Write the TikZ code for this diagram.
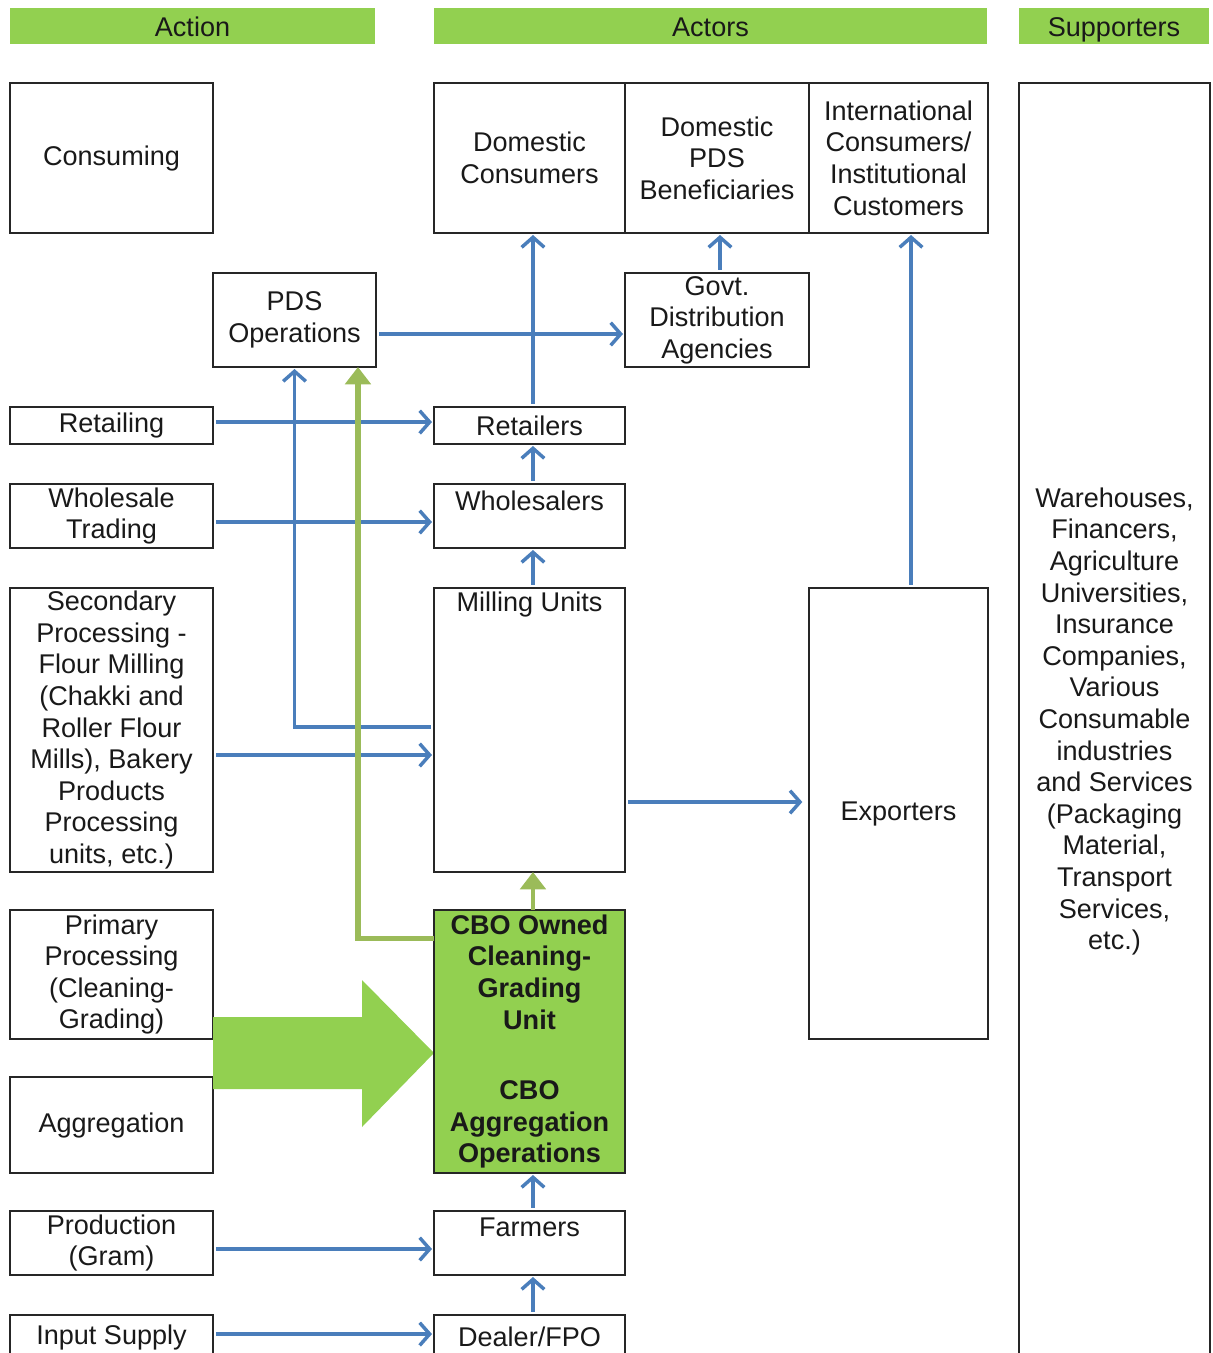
\documentclass[tikz,border=0pt]{standalone}
\usepackage{fontspec}
\setmainfont{Liberation Sans}
\usetikzlibrary{arrows.meta}
\definecolor{hdr}{HTML}{92D050}
\definecolor{blu}{HTML}{4A7EBB}
\definecolor{olv}{HTML}{9BBB59}
\definecolor{edgec}{HTML}{262626}
% [options]{name}{x1}{y1}{x2}{y2}{text}
\newcommand\mybox[7][]{\node[rectnode,#1,minimum width={(#5-#3)*0.75pt},minimum height={(#6-#4)*0.75pt}] (#2) at ({(#3+#5)/2},{(#4+#6)/2}) {#7};}
\begin{document}
\begin{tikzpicture}[x=0.75pt,y=-0.75pt,
 every node/.style={font=\fontsize{20.3}{23.7}\selectfont, text=black!90, align=center},
 rectnode/.style={inner sep=0pt, outer sep=0pt, anchor=center},
 box/.style={draw=edgec, line width=1pt},
 hdrbar/.style={fill=hdr, text height=18pt, text depth=2.8pt},
 cbobox/.style={box, fill=hdr, font=\fontsize{20.3}{23.7}\selectfont\bfseries},
 toptext/.style={label={[anchor=center,yshift=-12.5pt]north:#1}},
 flow/.style={draw=blu, line width=2.6pt, shorten <=2.5pt, shorten >=1.5pt,
   -{Straight Barb[length=7.5pt,width=17pt]}},
 gflow/.style={draw=olv, line width=3.8pt, -{Triangle[length=13pt,width=19pt]}},
 bigarrow/.style={fill=hdr}]
\useasboundingbox (0,0) rectangle (1213,1353);
\clip (0,0) rectangle (1213,1353);

% headers
\mybox[hdrbar]{hA}{10}{8}{375}{44}{Action}
\mybox[hdrbar]{hB}{434}{8}{987}{44}{Actors}
\mybox[hdrbar]{hC}{1019}{8}{1209}{44}{Supporters}

% action column
\mybox[box]{consuming}{10}{83}{213}{233}{Consuming}
\mybox[box]{pdsop}{213}{273}{376}{367}{PDS\\Operations}
\mybox[box]{retailing}{10}{407}{213}{444}{Retailing}
\mybox[box]{wtrade}{10}{484}{213}{548}{Wholesale\\Trading}
\mybox[box]{secproc}{10}{588}{213}{872}{Secondary\\Processing -\\Flour Milling\\(Chakki and\\Roller Flour\\Mills), Bakery\\Products\\Processing\\units, etc.)}
\mybox[box]{primproc}{10}{910}{213}{1039}{Primary\\Processing\\(Cleaning-\\Grading)}
\mybox[box]{aggr}{10}{1077}{213}{1173}{Aggregation}
\mybox[box]{prod}{10}{1211}{213}{1275}{Production\\(Gram)}
\mybox[box]{input}{10}{1315}{213}{1360}{Input Supply}

% actors
\mybox[box]{domcons}{434}{83}{625}{233}{Domestic\\Consumers}
\mybox[box]{dompds}{625}{83}{809}{233}{Domestic\\PDS\\Beneficiaries}
\mybox[box]{intl}{809}{83}{988}{233}{International\\Consumers/\\Institutional\\Customers}
\mybox[box]{govt}{625}{273}{809}{367}{Govt.\\Distribution\\Agencies}
\mybox[box]{retailers}{434}{407}{625}{444}{Retailers}
\mybox[box,toptext=Wholesalers]{wholesalers}{434}{484}{625}{548}{}
\mybox[box,toptext=Milling Units]{milling}{434}{588}{625}{872}{}
\mybox[box]{exporters}{809}{588}{988}{1039}{Exporters}
\mybox[box,toptext=Farmers]{farmers}{434}{1211}{625}{1275}{}
\mybox[box]{dealer}{434}{1315}{625}{1358}{Dealer/FPO}

% supporters
\mybox[box]{supp}{1019}{83}{1210}{1360}{Warehouses,\\Financers,\\Agriculture\\Universities,\\Insurance\\Companies,\\Various\\Consumable\\industries\\and Services\\(Packaging\\Material,\\Transport\\Services,\\etc.)}

% big block arrow
\fill[bigarrow] (213,1017) -- (362,1017) -- (362,980) -- (434,1053) -- (362,1127) -- (362,1089) -- (213,1089) -- cycle;

% CBO box
\mybox[cbobox]{cbo}{434}{910}{625}{1173}{CBO Owned\\Cleaning-\\Grading\\Unit\\[29pt]CBO\\Aggregation\\Operations}

% blue flows
\draw[flow] ([yshift=2.6pt]retailing.east) -- ([yshift=2.6pt]retailers.west);
\draw[flow] ([yshift=-4.5pt]wtrade.east) -- ([yshift=-4.5pt]wholesalers.west);
\draw[flow] ([yshift=-18.75pt]secproc.east) -- ([yshift=-18.75pt]secproc.east -| milling.west);
\draw[flow] ([yshift=-4.5pt]prod.east) -- ([yshift=-4.5pt]farmers.west);
\draw[flow] ([yshift=2.6pt]input.east) -- ([yshift=2.6pt]input.east -| dealer.west);
\draw[flow] ([yshift=2.25pt]milling.west) -| (pdsop.south);
\draw[flow] ([yshift=-10.5pt]pdsop.east) -- ([yshift=-10.5pt]govt.west);
\draw[flow] ([xshift=2.6pt]retailers.north) -- ([xshift=2.6pt]domcons.south);
\draw[flow] ([xshift=2.25pt]govt.north) -- ([xshift=2.25pt]dompds.south);
\draw[flow] ([xshift=2.6pt]wholesalers.north) -- ([xshift=2.6pt]retailers.south);
\draw[flow] ([xshift=2.6pt]milling.north) -- ([xshift=2.6pt]wholesalers.south);
\draw[flow, shorten >=5pt] ([yshift=-54pt]milling.east) -- ([yshift=-54pt]milling.east -| exporters.west);
\draw[flow] ([xshift=9.4pt]exporters.north) -- ([xshift=9.4pt]intl.south);
\draw[flow] ([xshift=2.6pt]farmers.north) -- ([xshift=2.6pt]cbo.south);
\draw[flow] ([xshift=2.6pt]dealer.north) -- ([xshift=2.6pt]farmers.south);

% green flows
\draw[gflow, line width=3.2pt] ([xshift=2.6pt]cbo.north) -- ([xshift=2.6pt]milling.south);
\draw[gflow] ([yshift=77.6pt]cbo.west) -| ([xshift=47.6pt]pdsop.south);
\end{tikzpicture}
\end{document}
